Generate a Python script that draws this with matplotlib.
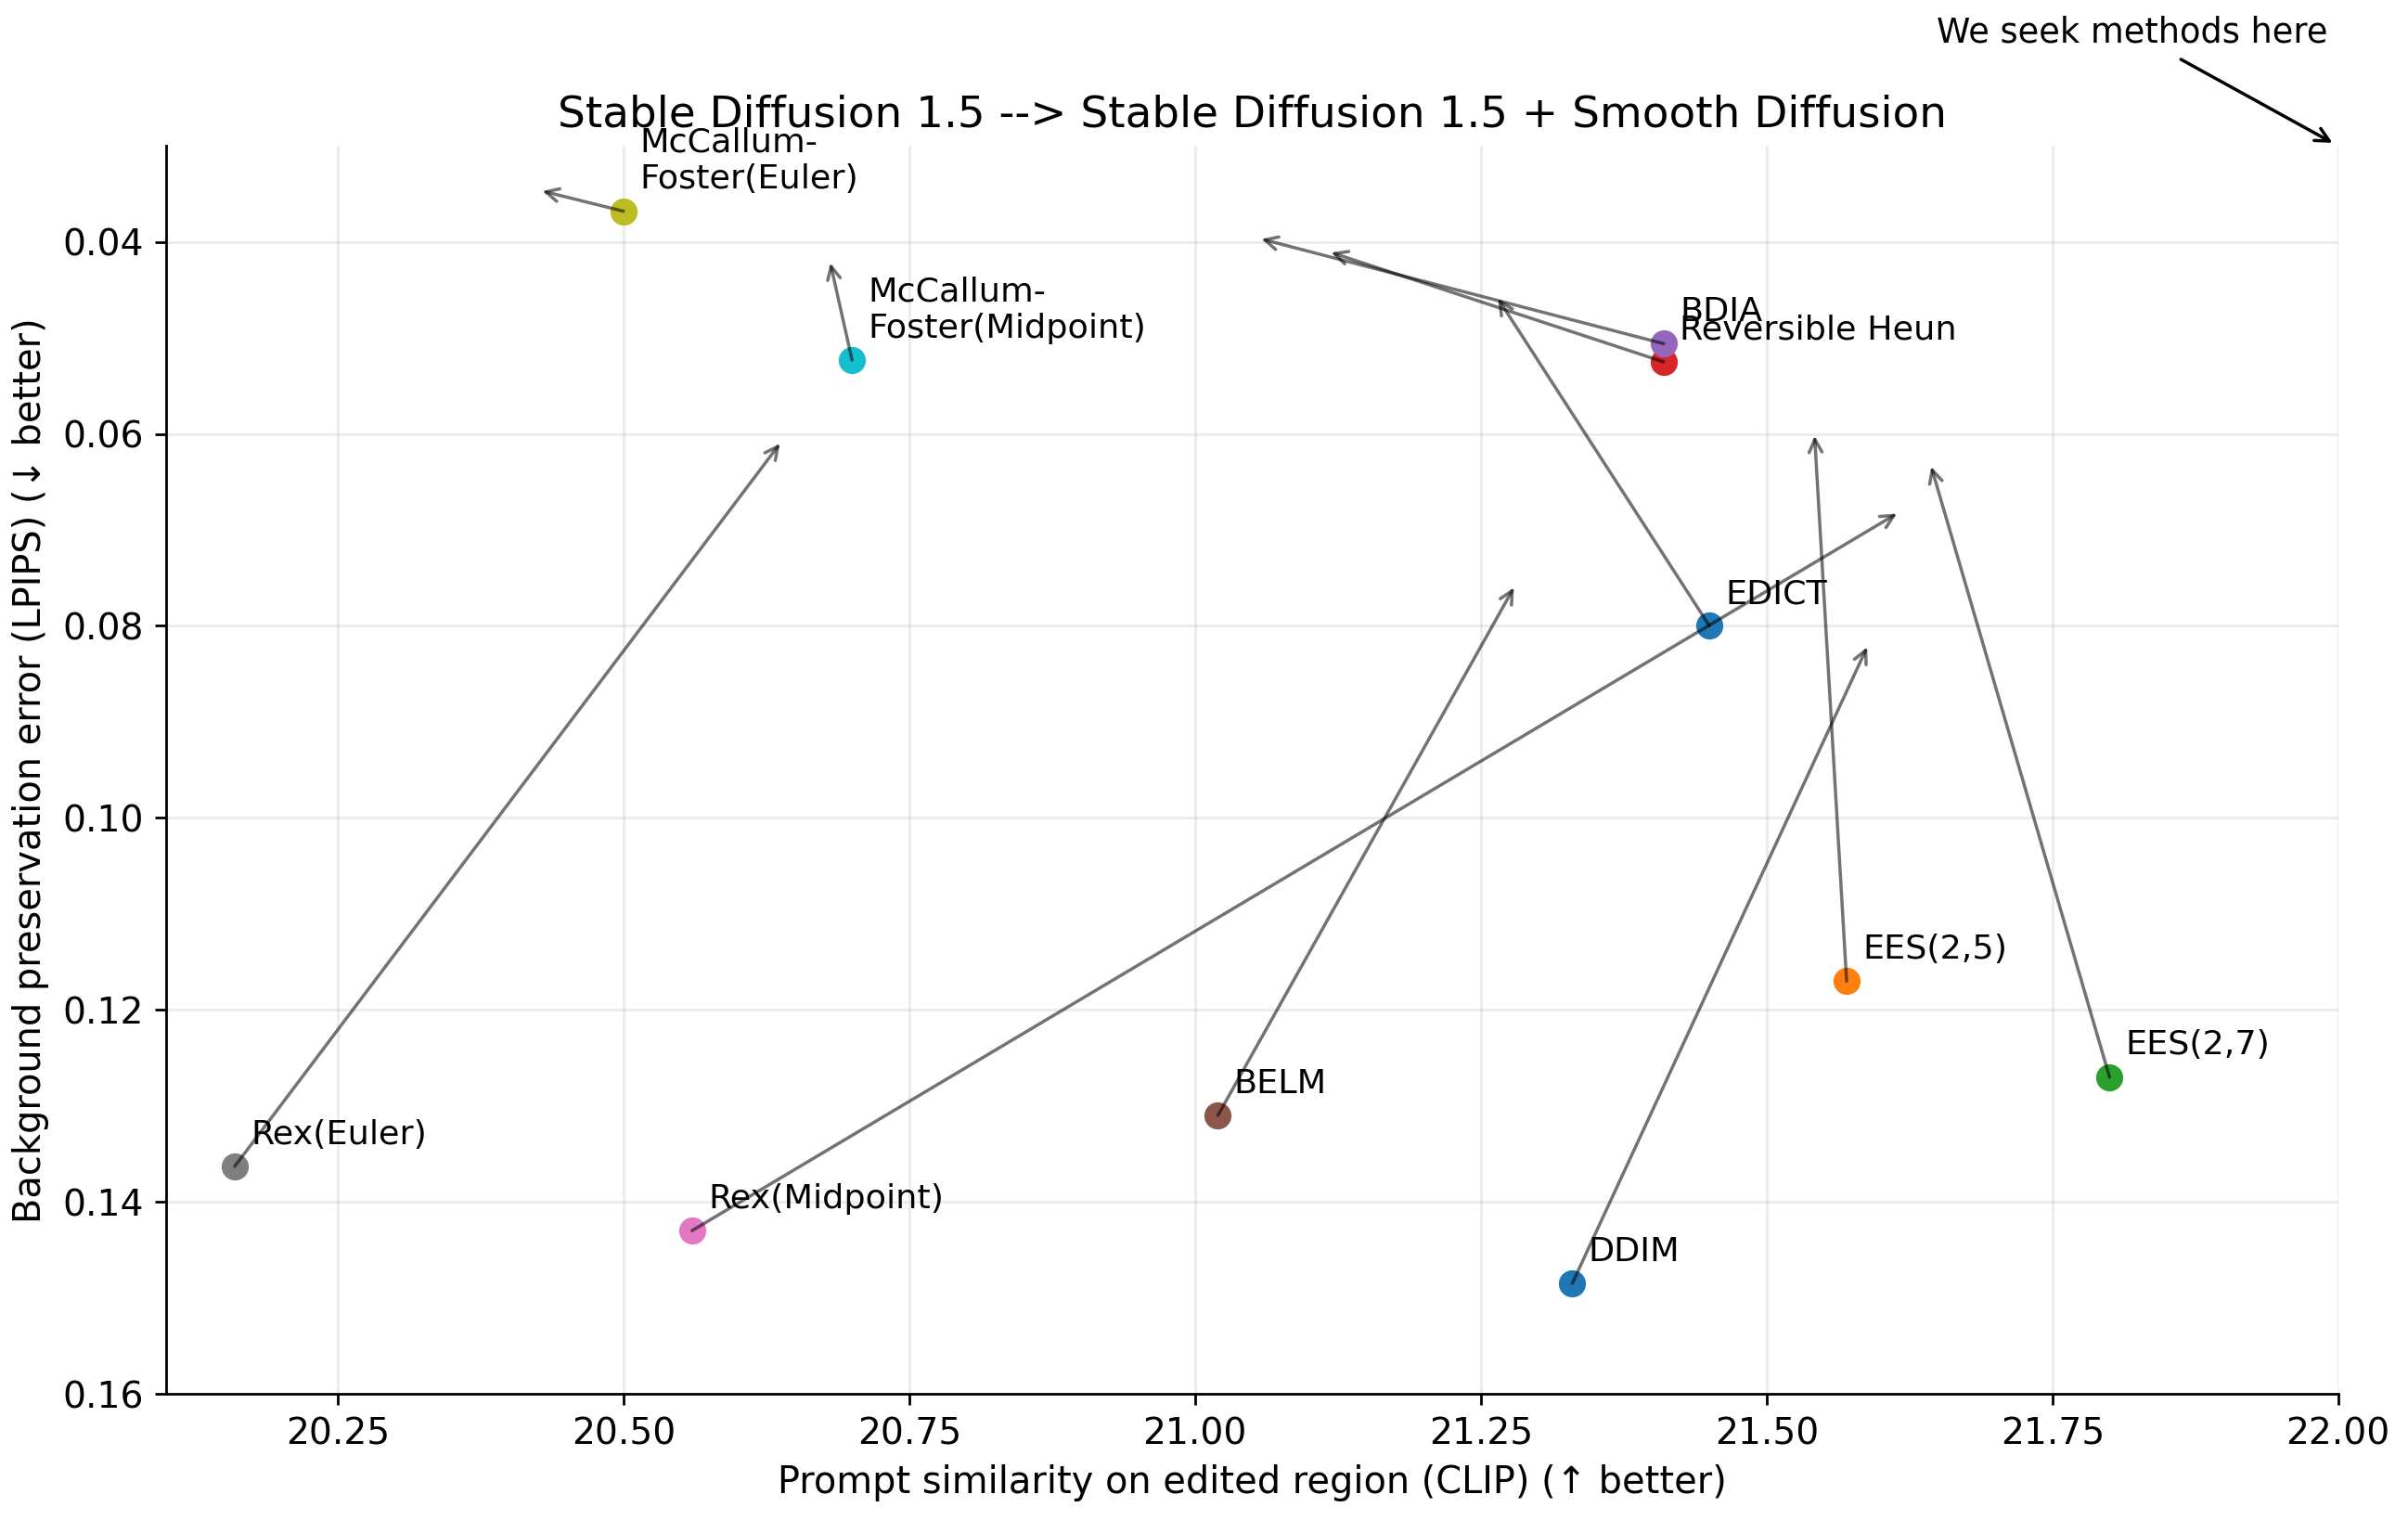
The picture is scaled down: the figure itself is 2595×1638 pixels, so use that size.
import matplotlib
matplotlib.use("Agg")
import matplotlib.pyplot as plt

# Methods: CLIP score / LPIPS with SD 1.5 (start) and with Smooth Diffusion (end)
methods = ["DDIM", "EES(2,5)", "EES(2,7)", "Reversible Heun", "BDIA", "BELM",
           "Rex(Midpoint)", "Rex(Euler)", "McCallum-\nFoster(Euler)",
           "McCallum-\nFoster(Midpoint)", "EDICT"]
clip_sd = [21.33, 21.57, 21.80, 21.41, 21.41, 21.02, 20.56, 20.16, 20.50, 20.70, 21.45]
lpips_sd = [0.1485, 0.117, 0.127, 0.0525, 0.0506, 0.131, 0.143, 0.1363, 0.0368, 0.0523, 0.080]
clip_smooth = [21.588, 21.542, 21.644, 21.119, 21.058, 21.279, 21.614, 20.637, 20.429, 20.681, 21.265]
lpips_smooth = [0.0822, 0.0602, 0.0634, 0.0411, 0.0397, 0.076, 0.0683, 0.061, 0.0347, 0.0422, 0.0459]
colors = ["C0", "C1", "C2", "C3", "C4", "C5", "C6", "C7", "C8", "C9", "C0"]

fig, ax = plt.subplots(figsize=(10.38, 6.552), dpi=250)
fig.subplots_adjust(left=0.069, right=0.971, top=0.904, bottom=0.083)

for i, name in enumerate(methods):
    ax.scatter(clip_sd[i], lpips_sd[i], color=colors[i], s=55, zorder=3)
    ax.annotate(name, (clip_sd[i], lpips_sd[i]), xytext=(5, 5),
                textcoords="offset points", ha="left", va="bottom", fontsize=10.5)
    ax.annotate("", xy=(clip_smooth[i], lpips_smooth[i]), xytext=(clip_sd[i], lpips_sd[i]),
                arrowprops=dict(arrowstyle="->", color="black", alpha=0.55, lw=1.0,
                                shrinkA=0, shrinkB=0), zorder=4)

ax.annotate("We seek methods here", xy=(22.0, 0.03), xytext=(21.82, 0.0182),
            ha="center", va="center", fontsize=10.6, annotation_clip=False,
            arrowprops=dict(arrowstyle="->", color="black", lw=1.0))

ax.set_xlim(20.1, 22.0)
ax.set_ylim(0.16, 0.03)
ax.set_xticks([20.25, 20.5, 20.75, 21.0, 21.25, 21.5, 21.75, 22.0])
ax.set_xticklabels(["20.25", "20.50", "20.75", "21.00", "21.25", "21.50", "21.75", "22.00"])
ax.set_yticks([0.04, 0.06, 0.08, 0.10, 0.12, 0.14, 0.16])
ax.set_yticklabels(["0.04", "0.06", "0.08", "0.10", "0.12", "0.14", "0.16"])
ax.tick_params(labelsize=11.3)
ax.grid(True, alpha=0.25)
ax.spines["top"].set_visible(False)
ax.spines["right"].set_visible(False)

ax.set_xlabel("Prompt similarity on edited region (CLIP) (\u2191 better)", fontsize=11.5)
ax.set_ylabel("Background preservation error (LPIPS) (\u2193 better)", fontsize=11.5)
ax.set_title("Stable Diffusion 1.5 --> Stable Diffusion 1.5 + Smooth Diffusion", fontsize=13.5)

fig.savefig("out.png", dpi=250)
